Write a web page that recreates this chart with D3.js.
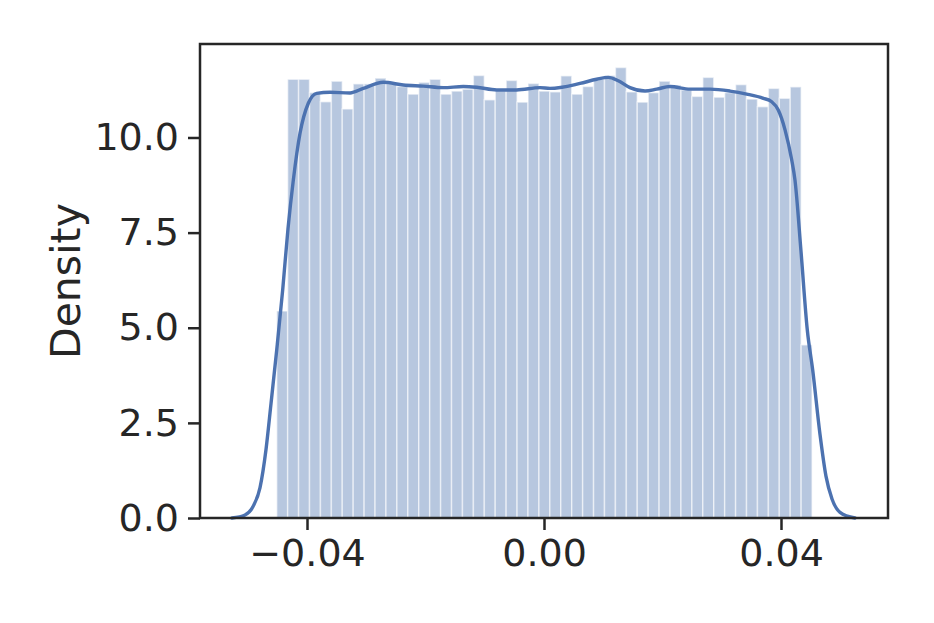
<!DOCTYPE html>
<html><head><meta charset="utf-8">
<script src="https://cdn.jsdelivr.net/npm/d3@7/dist/d3.min.js"></script>
<style>body{margin:0;background:#fff}</style>
</head><body><svg id="c" width="934" height="623"></svg>
<script>
// ---- data ----
const binStart = -0.04511;
const binWidth = 0.001844;
const densities = [5.44, 11.53, 11.53, 11.18, 10.94, 11.48, 10.75, 11.41, 11.41, 11.56,
  11.42, 11.34, 11.14, 11.45, 11.53, 11.14, 11.22, 11.27, 11.63, 10.99,
  11.23, 11.50, 10.93, 11.42, 11.22, 11.20, 11.62, 11.14, 11.34, 11.53,
  11.63, 11.84, 11.20, 10.93, 11.18, 11.48, 11.38, 11.25, 11.08, 11.58,
  11.06, 11.18, 11.39, 11.01, 10.81, 11.29, 11.03, 11.33, 4.55];
const kdeX = [-0.05266, -0.05046, -0.04911, -0.04793, -0.04692, -0.04608, -0.04511, -0.04410,
  -0.04321, -0.04231, -0.04118, -0.03978, -0.03836, -0.03612, -0.03274, -0.03050, -0.02712,
  -0.02375, -0.02037, -0.01700, -0.01362, -0.01136, -0.00798, -0.00461, -0.00068, 0.00101,
  0.00608, 0.00889, 0.01085, 0.01254, 0.01451, 0.01705, 0.01902, 0.02127, 0.02464, 0.02802,
  0.03139, 0.03421, 0.03701, 0.03843, 0.03954, 0.04068, 0.04181, 0.04236, 0.04338, 0.04444,
  0.04535, 0.04658, 0.04759, 0.04861, 0.04996, 0.05249];
const kdeY = [0, 0.08, 0.3, 0.8, 1.8, 3.0, 4.42, 6.0,
  7.6, 8.88, 10.11, 10.9, 11.16, 11.19, 11.17, 11.29, 11.45,
  11.38, 11.35, 11.31, 11.34, 11.32, 11.25, 11.25, 11.31, 11.29,
  11.42, 11.53, 11.58, 11.49, 11.31, 11.22, 11.27, 11.34, 11.27, 11.27,
  11.22, 11.14, 11.03, 10.94, 10.72, 10.2, 9.41, 8.88, 7.0, 4.94,
  3.89, 2.2, 1.1, 0.5, 0.15, 0];
const xTicks = [-0.04, 0, 0.04];
const xTickLabels = ["\u22120.04", "0.00", "0.04"];
const yTicks = [0, 2.5, 5, 7.5, 10];
const yTickLabels = ["0.0", "2.5", "5.0", "7.5", "10.0"];
const yLabel = "Density";

// ---- chart ----
const svg = d3.select("#c");
const L = 200, R = 888, T = 44, B = 518;
const ink = "#262626";
const blue = "#4C72B0";
const font = "'DejaVu Sans', sans-serif";
const x = d3.scaleLinear().domain([-0.05806, 0.05806]).range([L, R]);
const y = d3.scaleLinear().domain([0, 12.457]).range([B, T]);

const bins = densities.map((d, i) => ({x0: binStart + i * binWidth, x1: binStart + (i + 1) * binWidth, d}));
svg.append("g").selectAll("rect").data(bins).join("rect")
  .attr("x", b => x(b.x0)).attr("width", b => x(b.x1) - x(b.x0))
  .attr("y", b => y(b.d)).attr("height", b => y(0) - y(b.d))
  .attr("fill", blue).attr("fill-opacity", 0.4)
  .attr("stroke", "#fff").attr("stroke-opacity", 0.55).attr("stroke-width", 1.5);

const kde = kdeX.map((v, i) => [v, kdeY[i]]);
svg.append("path").datum(kde)
  .attr("d", d3.line().x(d => x(d[0])).y(d => y(d[1])).curve(d3.curveMonotoneX))
  .attr("fill", "none").attr("stroke", blue).attr("stroke-width", 3.4)
  .attr("stroke-linejoin", "round").attr("stroke-linecap", "round");

// axes
const gx = svg.append("g").attr("transform", `translate(0,${B})`)
  .call(d3.axisBottom(x).tickValues(xTicks).tickFormat((d, i) => xTickLabels[i]).tickSize(12).tickPadding(9));
const gy = svg.append("g").attr("transform", `translate(${L},0)`)
  .call(d3.axisLeft(y).tickValues(yTicks).tickFormat((d, i) => yTickLabels[i]).tickSize(12).tickPadding(9));
[gx, gy].forEach(g => {
  g.select(".domain").remove();
  g.selectAll(".tick line").attr("stroke", ink).attr("stroke-width", 2.5);
  g.selectAll(".tick text").attr("fill", ink).style("font-family", font).style("font-size", "38px");
});

svg.append("rect").attr("x", L).attr("y", T).attr("width", R - L).attr("height", B - T)
  .attr("fill", "none").attr("stroke", ink).attr("stroke-width", 2.5);

svg.append("text").attr("transform", `translate(80,${(T + B) / 2}) rotate(-90)`)
  .attr("text-anchor", "middle").attr("fill", ink)
  .style("font-family", font).style("font-size", "41px").text(yLabel);
</script></body></html>
